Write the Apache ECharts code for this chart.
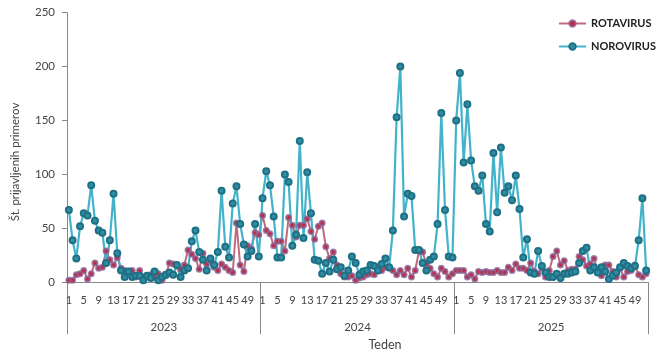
<!DOCTYPE html>
<html>
<head>
<meta charset="utf-8">
<script src="https://cdn.jsdelivr.net/npm/echarts@6/dist/echarts.min.js"></script>
<style>html,body{margin:0;padding:0;background:#fff;}#c{width:670px;height:356px;}</style>
</head>
<body>
<div id="c"></div>
<script>
const years = ['2023', '2024', '2025'];
const weeksPerYear = 52;
const yTicks = [0, 50, 100, 150, 200, 250];

const rota2023 = [2,2,7,8,11,3,8,18,13,14, 29,21,16,23,13,11,10,11,5,11, 5,6,7,5,8,2,6,18,17,15, 12,16,30,26,22,12,27,17,20,14, 11,17,14,11,9,55,16,10,34,31, 46,44];
const rota2024 = [62,48,45,34,38,38,29,60,53,42, 53,53,59,47,40,52,55,33,22,28, 16,8,5,5,6,2,4,5,7,8, 7,11,11,14,13,11,7,11,7,13, 5,11,29,28,17,13,8,5,13,10, 5,8];
const rota2025 = [11,11,11,5,7,3,10,9,10,9, 9,11,9,9,14,11,17,13,13,11, 18,10,8,13,5,11,24,29,16,20, 11,12,12,24,21,15,17,22,10,6, 16,16,10,5,13,5,10,11,16,7, 5,8];

const noro2023 = [67,39,22,52,64,62,90,57,48,46, 18,39,82,27,11,5,10,5,6,6, 2,6,4,10,2,5,7,9,7,16, 5,11,13,38,48,28,21,11,22,16, 28,85,33,23,73,89,54,35,24,29, 54,24];
const noro2024 = [78,103,90,61,23,23,100,93,34,44, 131,41,102,64,21,20,8,18,10,21, 12,14,6,11,24,18,7,10,11,16, 15,11,17,22,14,48,153,200,61,82, 80,30,30,18,11,21,24,54,157,67, 24,23];
const noro2025 = [150,194,111,165,113,89,85,99,54,47, 120,65,125,83,89,76,99,68,23,40, 9,8,29,15,9,5,5,8,4,8, 8,9,10,18,29,32,11,14,9,14, 10,3,6,9,14,18,15,13,15,39, 78,11];

const categories = [];
years.forEach(y => { for (let w = 1; w <= weeksPerYear; w++) categories.push(y + '-' + w); });
const rota = rota2023.concat(rota2024, rota2025);
const noro = noro2023.concat(noro2024, noro2025);

const FONT = 'Lato, "Open Sans", sans-serif';
const chart = echarts.init(document.getElementById('c'), null, {renderer: 'canvas'});
chart.setOption({
  animation: false,
  grid: {left: 67, right: 22, top: 12.7, bottom: 73.7, containLabel: false},
  legend: {
    orient: 'vertical', left: 553, top: 13, itemGap: 12, itemWidth: 27, itemHeight: 8,
    textStyle: {fontFamily: FONT, fontSize: 11, fontWeight: 'bold', color: '#222'},
    data: ['ROTAVIRUS', 'NOROVIRUS']
  },
  xAxis: [{
    type: 'category', data: categories, boundaryGap: true, position: 'bottom',
    axisLine: {show: true, lineStyle: {color: '#888', width: 1}},
    axisTick: {show: false},
    axisLabel: {
      interval: (idx) => (idx % weeksPerYear) % 4 === 0,
      formatter: (v) => v.split('-')[1],
      margin: 13, fontFamily: FONT, fontSize: 11, color: '#444'
    },
    splitLine: {show: false}
  }, {
    type: 'category', data: years, boundaryGap: true, position: 'bottom', offset: 0,
    axisLine: {show: true, lineStyle: {color: '#888', width: 1}},
    axisTick: {show: true, interval: 0, length: 52, lineStyle: {color: '#888'}},
    axisLabel: {interval: 0, margin: 39, fontFamily: FONT, fontSize: 11.5, color: '#444'},
    splitLine: {show: false}
  }],
  yAxis: {
    type: 'value', min: 0, max: 250, interval: 50,
    axisLine: {show: true, lineStyle: {color: '#888'}},
    axisTick: {show: true, length: 5, lineStyle: {color: '#888'}},
    axisLabel: {margin: 12, fontFamily: FONT, fontSize: 11.5, color: '#444',
      formatter: (v) => yTicks.includes(v) ? String(v) : ''},
    splitLine: {show: false}
  },
  graphic: [{
    type: 'text', x: 15, y: 162, rotation: Math.PI / 2,
    style: {text: 'Št. prijavljenih primerov', fontFamily: FONT, fontSize: 11.5, fill: '#444',
      textAlign: 'center', textVerticalAlign: 'middle'}
  }, {
    type: 'text', x: 385, y: 345,
    style: {text: 'Teden', fontFamily: FONT, fontSize: 12.5, fill: '#444',
      textAlign: 'center', textVerticalAlign: 'middle'}
  }],
  series: [{
    name: 'ROTAVIRUS', type: 'line', data: rota, xAxisIndex: 0,
    symbol: 'circle', symbolSize: 5, showSymbol: true, showAllSymbol: true,
    lineStyle: {color: '#c06a7e', width: 2},
    itemStyle: {color: '#c4283f', borderColor: 'rgba(140,100,150,0.8)', borderWidth: 2}
  }, {
    name: 'NOROVIRUS', type: 'line', data: noro, xAxisIndex: 0,
    symbol: 'circle', symbolSize: 6, showSymbol: true, showAllSymbol: true,
    lineStyle: {color: '#43b3cb', width: 2.2},
    itemStyle: {color: '#2f8ea3', borderColor: '#1f7084', borderWidth: 2}
  }]
});
</script>
</body>
</html>
